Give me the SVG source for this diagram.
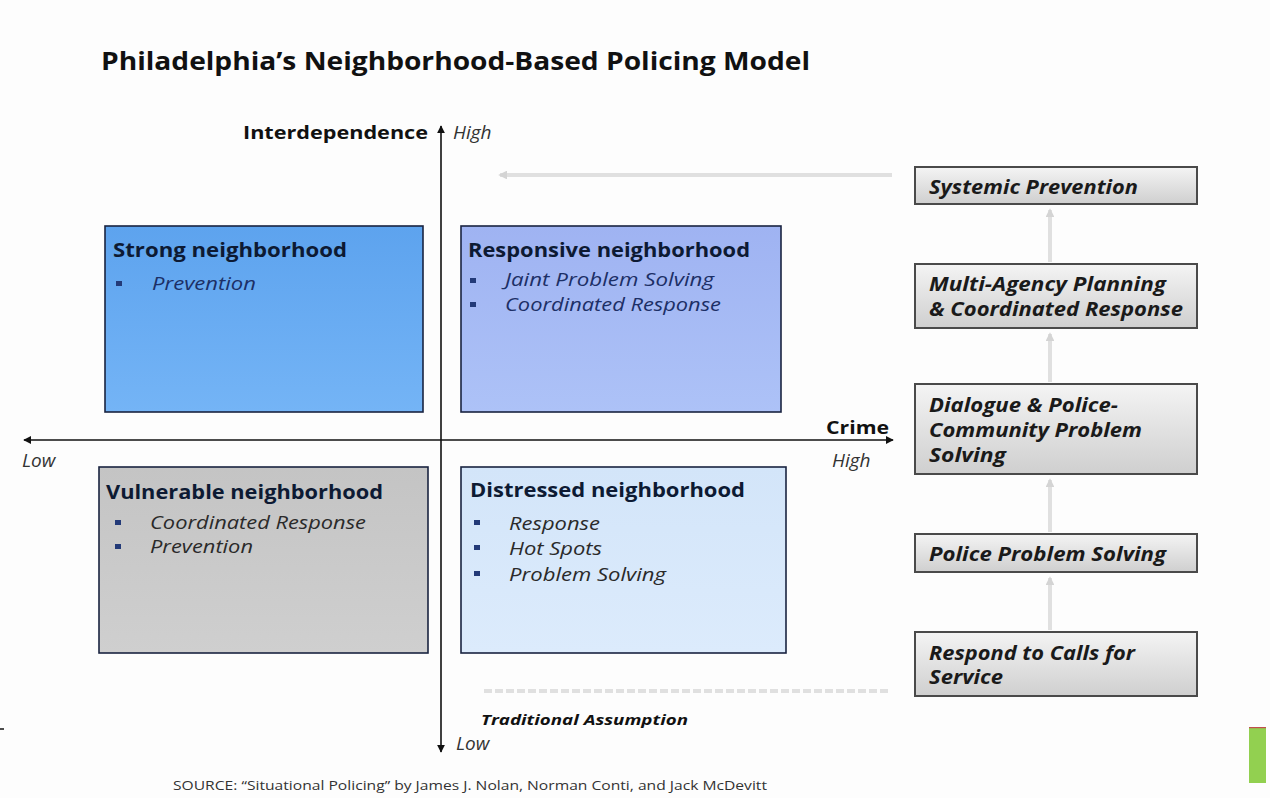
<svg xmlns="http://www.w3.org/2000/svg" width="1270" height="798" viewBox="0 0 1270 798">
  <style>
    .title { font-family: "Open Sans", "Liberation Sans", sans-serif; font-weight: bold; font-size: 25px; fill: #111; }
    .axis { stroke: #111; stroke-width: 1.6; fill: none; }
    .axlbl { font-family: "Open Sans", "Liberation Sans", sans-serif; font-weight: bold; font-size: 18px; fill: #111; }
    .axval { font-family: "Open Sans", "Liberation Sans", sans-serif; font-style: italic; font-size: 19px; fill: #333; }
    .qhead { font-family: "Open Sans", "Liberation Sans", sans-serif; font-weight: bold; font-size: 19px; fill: #0d1a33; }
    .qitem { font-family: "Open Sans", "Liberation Sans", sans-serif; font-style: italic; font-size: 19px; fill: #1c2f66; }
    .qitem.gray { fill: #2a2a2a; }
    .bullet { fill: #233a78; }
    .quad { stroke: #1a2340; stroke-width: 1.6; }
    .step rect { fill: url(#stepFill); stroke: #4a4a4a; stroke-width: 2; }
    .step text { font-family: "Open Sans", "Liberation Sans", sans-serif; font-weight: bold; font-style: italic; font-size: 19px; fill: #1a1a1a; }
    .faint { stroke: #e0e0e0; stroke-width: 4; fill: none; }
    .note { font-family: "Open Sans", "Liberation Sans", sans-serif; font-weight: bold; font-style: italic; font-size: 15px; fill: #111; }
    .src { font-family: "Open Sans", "Liberation Sans", sans-serif; font-size: 13px; fill: #333; }
  </style>
  <defs>
    <marker id="axHead" viewBox="0 0 10 10" refX="9" refY="5" markerWidth="5" markerHeight="5" orient="auto-start-reverse" markerUnits="strokeWidth">
      <path d="M0,0 L10,5 L0,10 z" fill="#111"/>
    </marker>
    <marker id="faintHead" viewBox="0 0 10 10" refX="8" refY="5" markerWidth="2.2" markerHeight="2.2" orient="auto-start-reverse" markerUnits="strokeWidth">
      <path d="M0,0 L10,5 L0,10 z" fill="#d4d4d4"/>
    </marker>
    <linearGradient id="stepFill" x1="0" y1="0" x2="0" y2="1">
      <stop offset="0" stop-color="#f4f4f4"/>
      <stop offset="1" stop-color="#cfcfcf"/>
    </linearGradient>
    <linearGradient id="strongFill" x1="0" y1="0" x2="0" y2="1">
      <stop offset="0" stop-color="#5da3ee"/>
      <stop offset="1" stop-color="#74b4f6"/>
    </linearGradient>
    <linearGradient id="respFill" x1="0" y1="0" x2="0" y2="1">
      <stop offset="0" stop-color="#9fb3f2"/>
      <stop offset="1" stop-color="#adc2f7"/>
    </linearGradient>
    <linearGradient id="vulnFill" x1="0" y1="0" x2="0" y2="1">
      <stop offset="0" stop-color="#c4c4c4"/>
      <stop offset="1" stop-color="#cfcfcf"/>
    </linearGradient>
    <linearGradient id="distFill" x1="0" y1="0" x2="0" y2="1">
      <stop offset="0" stop-color="#d3e5f9"/>
      <stop offset="1" stop-color="#dcebfc"/>
    </linearGradient>
  </defs>

  <rect x="0" y="0" width="1270" height="798" fill="#fdfdfd"/>

  <text class="title" x="101" y="70" textLength="709" lengthAdjust="spacingAndGlyphs">Philadelphia’s Neighborhood-Based Policing Model</text>

  <!-- connectors: axes and progression arrows -->
  <g id="connectors">
    <line class="axis" x1="441" y1="752" x2="441" y2="126" marker-end="url(#axHead)" marker-start="url(#axHead)"/>
    <line class="axis" x1="24" y1="440" x2="893" y2="440" marker-end="url(#axHead)" marker-start="url(#axHead)"/>
    <line class="faint" x1="892" y1="175" x2="500" y2="175" marker-end="url(#faintHead)"/>
    <line class="faint" x1="888" y1="691" x2="482" y2="691" stroke-dasharray="8 3"/>
    <line class="faint" x1="1050" y1="262" x2="1050" y2="210" marker-end="url(#faintHead)"/>
    <line class="faint" x1="1050" y1="382" x2="1050" y2="334" marker-end="url(#faintHead)"/>
    <line class="faint" x1="1050" y1="532" x2="1050" y2="480" marker-end="url(#faintHead)"/>
    <line class="faint" x1="1050" y1="630" x2="1050" y2="578" marker-end="url(#faintHead)"/>
  </g>

  <!-- axis labels -->
  <text class="axlbl" x="243" y="139" textLength="185" lengthAdjust="spacingAndGlyphs">Interdependence</text>
  <text class="axval" x="453" y="139">High</text>
  <text class="axlbl" x="826" y="434" textLength="63" lengthAdjust="spacingAndGlyphs">Crime</text>
  <text class="axval" x="832" y="467">High</text>
  <text class="axval" x="22" y="467">Low</text>
  <text class="axval" x="456" y="750">Low</text>
  <text class="note" x="481" y="725" textLength="207" lengthAdjust="spacingAndGlyphs">Traditional Assumption</text>

  <!-- quadrants -->
  <g id="strong">
    <rect class="quad" x="105" y="226" width="318" height="186" fill="url(#strongFill)"/>
    <text class="qhead" x="113" y="257" textLength="234" lengthAdjust="spacingAndGlyphs">Strong neighborhood</text>
    <rect class="bullet" x="116" y="281" width="6" height="5"/>
    <text class="qitem" x="152" y="290" textLength="104" lengthAdjust="spacingAndGlyphs">Prevention</text>
  </g>
  <g id="responsive">
    <rect class="quad" x="461" y="226" width="320" height="186" fill="url(#respFill)"/>
    <text class="qhead" x="468" y="257" textLength="282" lengthAdjust="spacingAndGlyphs">Responsive neighborhood</text>
    <rect class="bullet" x="470" y="278" width="6" height="5"/>
    <text class="qitem" x="505" y="286" textLength="209" lengthAdjust="spacingAndGlyphs">Jaint Problem Solving</text>
    <rect class="bullet" x="470" y="302" width="6" height="5"/>
    <text class="qitem" x="505" y="311" textLength="216" lengthAdjust="spacingAndGlyphs">Coordinated Response</text>
  </g>
  <g id="vulnerable">
    <rect class="quad" x="99" y="467" width="329" height="186" fill="url(#vulnFill)" stroke="#333"/>
    <text class="qhead" x="106" y="499" textLength="277" lengthAdjust="spacingAndGlyphs">Vulnerable neighborhood</text>
    <rect class="bullet" x="115" y="520" width="6" height="5"/>
    <text class="qitem gray" x="150" y="529" textLength="216" lengthAdjust="spacingAndGlyphs">Coordinated Response</text>
    <rect class="bullet" x="115" y="544" width="6" height="5"/>
    <text class="qitem gray" x="150" y="553" textLength="103" lengthAdjust="spacingAndGlyphs">Prevention</text>
  </g>
  <g id="distressed">
    <rect class="quad" x="461" y="467" width="325" height="186" fill="url(#distFill)" stroke="#333"/>
    <text class="qhead" x="470" y="497" textLength="275" lengthAdjust="spacingAndGlyphs">Distressed neighborhood</text>
    <rect class="bullet" x="474" y="520" width="6" height="5"/>
    <text class="qitem gray" x="509" y="530" textLength="91" lengthAdjust="spacingAndGlyphs">Response</text>
    <rect class="bullet" x="474" y="545" width="6" height="5"/>
    <text class="qitem gray" x="509" y="555" textLength="93" lengthAdjust="spacingAndGlyphs">Hot Spots</text>
    <rect class="bullet" x="474" y="571" width="6" height="5"/>
    <text class="qitem gray" x="509" y="581" textLength="157" lengthAdjust="spacingAndGlyphs">Problem Solving</text>
  </g>

  <!-- policing approach ladder -->
  <g id="systemic" class="step">
    <rect x="915" y="167" width="282" height="37"/>
    <text x="929" y="194" textLength="209" lengthAdjust="spacingAndGlyphs">Systemic Prevention</text>
  </g>
  <g id="multiagency" class="step">
    <rect x="915" y="264" width="282" height="64"/>
    <text x="929" y="291" textLength="237" lengthAdjust="spacingAndGlyphs">Multi-Agency Planning</text>
    <text x="929" y="316" textLength="254" lengthAdjust="spacingAndGlyphs">&amp; Coordinated Response</text>
  </g>
  <g id="dialogue" class="step">
    <rect x="915" y="384" width="282" height="90"/>
    <text x="929" y="412" textLength="189" lengthAdjust="spacingAndGlyphs">Dialogue &amp; Police-</text>
    <text x="929" y="437" textLength="213" lengthAdjust="spacingAndGlyphs">Community Problem</text>
    <text x="929" y="462" textLength="77" lengthAdjust="spacingAndGlyphs">Solving</text>
  </g>
  <g id="policeps" class="step">
    <rect x="915" y="534" width="282" height="38"/>
    <text x="929" y="561" textLength="237" lengthAdjust="spacingAndGlyphs">Police Problem Solving</text>
  </g>
  <g id="respond" class="step">
    <rect x="915" y="632" width="282" height="64"/>
    <text x="929" y="660" textLength="206" lengthAdjust="spacingAndGlyphs">Respond to Calls for</text>
    <text x="929" y="684" textLength="74" lengthAdjust="spacingAndGlyphs">Service</text>
  </g>

  <text class="src" x="173" y="790" textLength="594" lengthAdjust="spacingAndGlyphs">SOURCE: “Situational Policing” by James J. Nolan, Norman Conti, and Jack McDevitt</text>

  <line x1="0" y1="729" x2="4" y2="729" stroke="#111" stroke-width="1.5"/>
  <rect x="1249" y="727" width="17" height="56" fill="#92d050"/>
  <rect x="1249" y="727" width="17" height="1.2" fill="#c0504d"/>
</svg>
